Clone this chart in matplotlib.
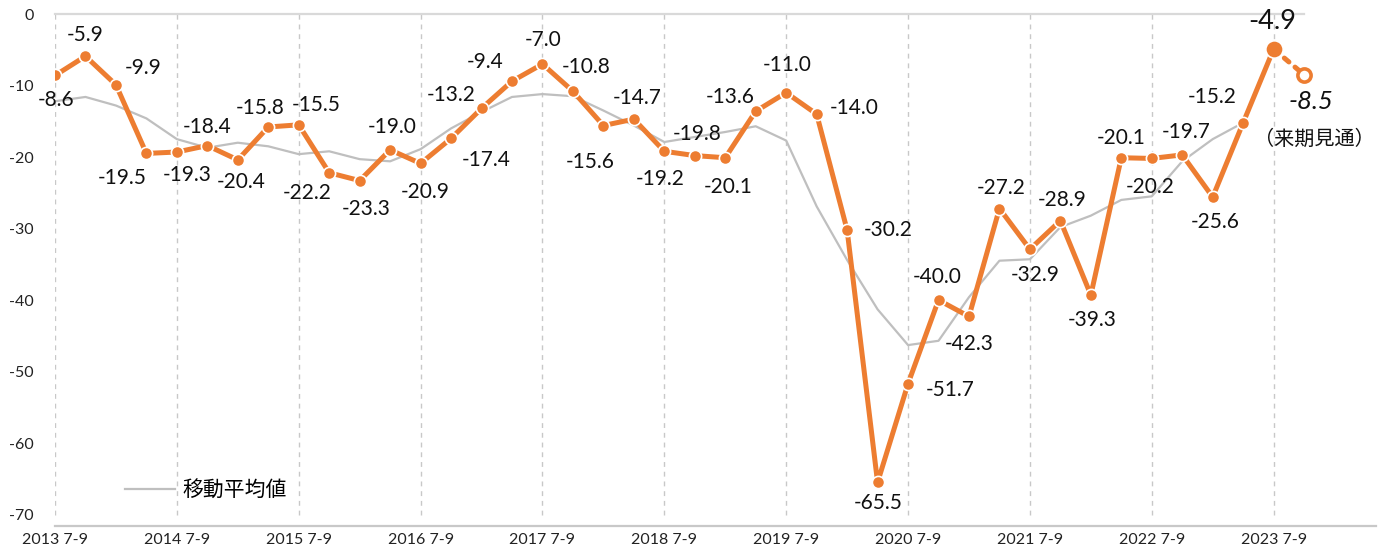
import matplotlib
matplotlib.use("Agg")  # no display
import matplotlib.pyplot as plt

plt.rcParams['font.family'] = ['Lato', 'Noto Sans CJK JP', 'DejaVu Sans']

# 四半期ラベル
quarters = [
    "2013 7-9", "2013 10-12",
    "2014 1-3", "2014 4-6", "2014 7-9", "2014 10-12",
    "2015 1-3", "2015 4-6", "2015 7-9", "2015 10-12",
    "2016 1-3", "2016 4-6", "2016 7-9", "2016 10-12",
    "2017 1-3", "2017 4-6", "2017 7-9", "2017 10-12",
    "2018 1-3", "2018 4-6", "2018 7-9", "2018 10-12",
    "2019 1-3", "2019 4-6", "2019 7-9", "2019 10-12",
    "2020 1-3", "2020 4-6", "2020 7-9", "2020 10-12",
    "2021 1-3", "2021 4-6", "2021 7-9", "2021 10-12",
    "2022 1-3", "2022 4-6", "2022 7-9", "2022 10-12",
    "2023 1-3", "2023 4-6", "2023 7-9", "2023 10-12",
]

# DI値（最後は来期見通し）
di = [-8.6, -5.9, -9.9, -19.5, -19.3, -18.4, -20.4, -15.8, -15.5, -22.2,
      -23.3, -19.0, -20.9, -17.4, -13.2, -9.4, -7.0, -10.8, -15.6, -14.7,
      -19.2, -19.8, -20.1, -13.6, -11.0, -14.0, -30.2, -65.5, -51.7, -40.0,
      -42.3, -27.2, -32.9, -28.9, -39.3, -20.1, -20.2, -19.7, -25.6, -15.2,
      -4.9, -8.5]

# 移動平均値
ma = [-12.2, -11.6, -12.8, -14.6, -17.5, -18.7, -18.0, -18.5, -19.6, -19.2,
      -20.3, -20.6, -18.9, -16.0, -13.7, -11.6, -11.2, -11.5, -13.5, -15.6,
      -17.9, -17.2, -16.5, -15.7, -17.7, -26.9, -34.4, -41.3, -46.3, -45.7,
      -39.6, -34.5, -34.3, -29.8, -28.2, -26.0, -25.5, -20.6, -17.5, -15.2]

yticks = [0, -10, -20, -30, -40, -50, -60, -70]
tick_idx = [0, 4, 8, 12, 16, 20, 24, 28, 32, 36, 40]

# ラベル位置（ピクセル、右・下が正）
label_off = [(1, 25), (0, -21), (27, -17), (-24, 25), (10, 23), (0, -19), (3, 22),
             (-8, -19), (17, -20), (-22, 20), (7, 28), (2, -23), (5, 29), (35, 22),
             (-30, -13), (-27, -19), (1, -24), (13, -24), (-13, 36), (3, -21),
             (-4, 28), (2, -22), (3, 29), (-26, -14), (1, -28), (38, -6), (41, 0),
             (1, 21), (42, 6), (-1, -23), (0, 28), (2, -21), (5, 26), (2, -21),
             (1, 25), (0, -20), (-2, 29), (4, -23), (2, 25), (-31, -26), (-1, -28),
             (7, 27)]

orange = "#ED7D31"
W, H = 1381, 552
fig = plt.figure(figsize=(W / 100, H / 100), dpi=100)
ax = fig.add_axes([55 / W, 1 - 526 / H, (1376 - 55) / W, (526 - 14) / H])

x = list(range(len(di)))
xmax = 43.36
ax.set_xlim(0, xmax)
ax.set_ylim(-71.6, 0)

# グリッド
ax.vlines(tick_idx, -70, 0, colors="#C8C8C8", linestyles=(0, (3.5, 3.5)), lw=1, zorder=1)
ax.axhline(0, xmin=0, xmax=41 / xmax, color="#D9D9D9", lw=1.6, zorder=1, clip_on=False)

# 移動平均
ax.plot(x[:len(ma)], ma, color="#BFBFBF", lw=1.6, zorder=2, label="移動平均値")

# DI
ax.plot(x[:41], di[:41], color=orange, lw=3.6, zorder=3, marker="o", ms=8.8,
        mfc=orange, mec="white", mew=1.2, solid_joinstyle="round")
ax.plot(x[40:], di[40:], color=orange, lw=3.6, zorder=3, linestyle=(0, (1.2, 1.6)),
        dash_capstyle="round")
ax.plot(x[40], di[40], marker="o", ms=12.5, mfc=orange, mec="white", mew=1.2, zorder=4,
        clip_on=False)
ax.plot(x[41], di[41], marker="o", ms=9.5, mfc="white", mec=orange, mew=2.6, zorder=4)

for i, v in enumerate(di):
    dx, dy = label_off[i]
    size, style = 15, "normal"
    if i == 40:
        size = 19.5
    if i == 41:
        size, style = 18.5, "italic"
    ax.annotate(f"{v:.1f}", (x[i], v), xytext=(dx, -dy), textcoords="offset pixels",
                ha="center", va="center", fontsize=size, style=style, color="#111111",
                annotation_clip=False, zorder=5)

ax.annotate("（来期見通）", (x[41], di[41]), xytext=(10, -65), textcoords="offset pixels",
            ha="center", va="center", fontsize=14.5, color="#111111",
            family=["Noto Sans CJK JP", "DejaVu Sans"])

# 軸
for s in ["top", "right", "left"]:
    ax.spines[s].set_visible(False)
ax.spines["bottom"].set_color("#C8C8C8")
ax.spines["bottom"].set_linewidth(1.6)
ax.set_yticks(yticks)
ax.set_yticklabels([str(t) for t in yticks])
ax.set_xticks(tick_idx)
ax.set_xticklabels([quarters[i] for i in tick_idx])
ax.tick_params(axis="y", length=0, pad=15.5, labelsize=11.5, labelcolor="#222222")
ax.tick_params(axis="x", length=0, pad=5, labelsize=11.5, labelcolor="#222222")

fig.legend(loc="center left", bbox_to_anchor=(125 / W, 1 - 490 / H), frameon=False,
           fontsize=15, handlelength=2.4, handletextpad=0.35, borderpad=0,
           borderaxespad=0, prop={"family": ["Noto Sans CJK JP"], "size": 15})

fig.savefig("out.png", dpi=100)
